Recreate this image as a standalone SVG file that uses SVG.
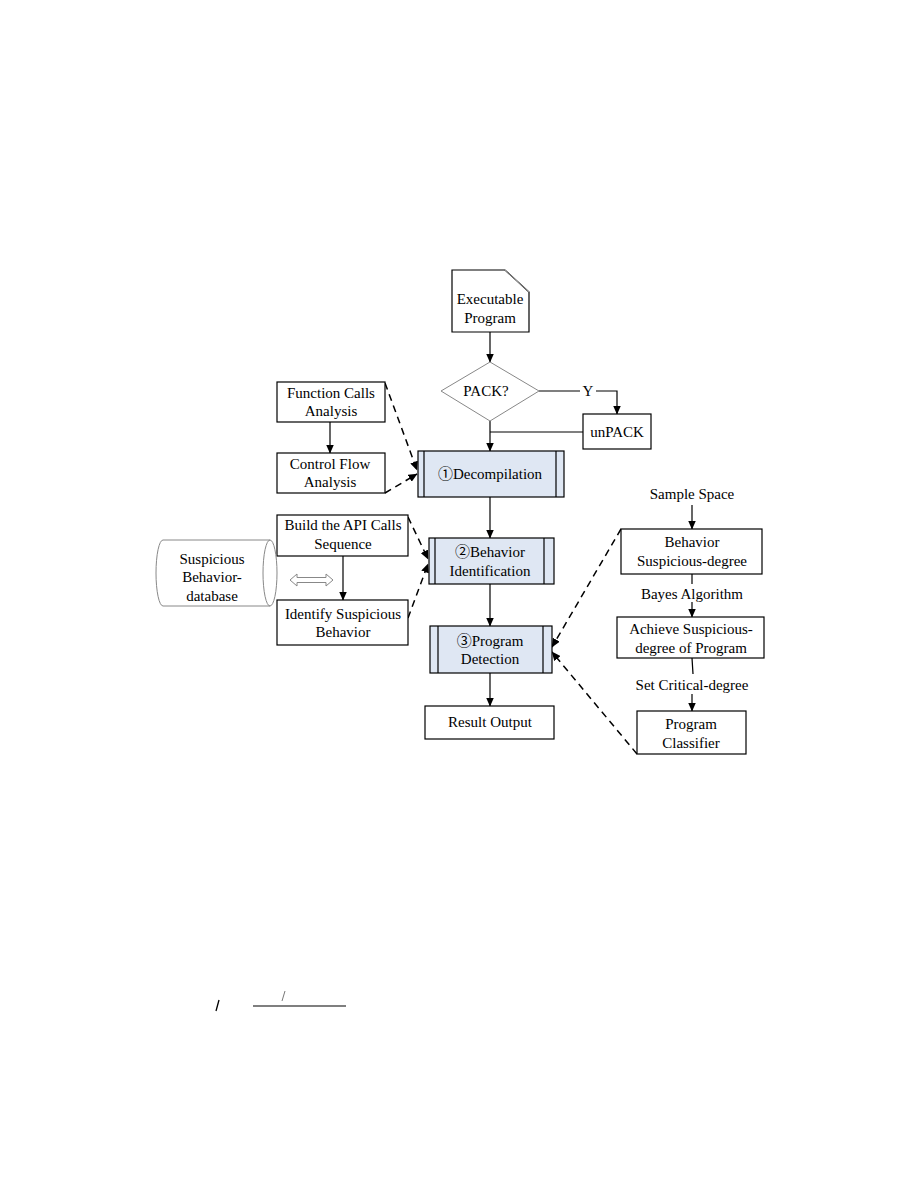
<svg xmlns="http://www.w3.org/2000/svg" width="918" height="1188" viewBox="0 0 918 1188">
<defs>
<marker id="ah" markerWidth="9" markerHeight="8" refX="8.5" refY="4" orient="auto" markerUnits="userSpaceOnUse">
<path d="M0,0 L9,4 L0,8 Z" fill="#000"/>
</marker>
<style>
text{font-family:"Liberation Serif","Noto Sans CJK SC",serif;font-size:15px;fill:#000;text-anchor:middle}
.box{fill:#fff;stroke:#000;stroke-width:1.2}
.proc{fill:#dfe7f3;stroke:#000;stroke-width:1.2}
.ln{fill:none;stroke:#000;stroke-width:1.2}
.dash{fill:none;stroke:#000;stroke-width:1.5;stroke-dasharray:7,5}
.gray{fill:#fff;stroke:#888;stroke-width:1}
</style>
</defs>
<rect width="918" height="1188" fill="#fff"/>

<g id="connectors">
<line class="ln" x1="490" y1="332" x2="490" y2="362" marker-end="url(#ah)"/>
<polyline class="ln" points="539,391 580,391"/>
<polyline class="ln" points="596,391 617,391 617,414" marker-end="url(#ah)"/>
<polyline class="ln" points="583,432 490,432"/>
<line class="ln" x1="490" y1="421" x2="490" y2="451" marker-end="url(#ah)"/>
<line class="ln" x1="330" y1="422" x2="330" y2="453" marker-end="url(#ah)"/>
<line class="dash" x1="385" y1="383" x2="417" y2="470" marker-end="url(#ah)"/>
<line class="dash" x1="385" y1="493" x2="417" y2="474" marker-end="url(#ah)"/>
<line class="ln" x1="490" y1="497" x2="490" y2="538" marker-end="url(#ah)"/>
<line class="ln" x1="343" y1="556" x2="343" y2="600" marker-end="url(#ah)"/>
<line class="dash" x1="408" y1="517" x2="428" y2="559" marker-end="url(#ah)"/>
<line class="dash" x1="408" y1="618" x2="428" y2="564" marker-end="url(#ah)"/>
<line class="ln" x1="490" y1="584" x2="490" y2="626" marker-end="url(#ah)"/>
<line class="ln" x1="490" y1="673" x2="490" y2="706" marker-end="url(#ah)"/>
<line class="ln" x1="692" y1="505" x2="692" y2="529" marker-end="url(#ah)"/>
<line class="ln" x1="692" y1="574" x2="692" y2="584"/>
<line class="ln" x1="692" y1="602" x2="692" y2="617" marker-end="url(#ah)"/>
<line class="ln" x1="692" y1="658" x2="693" y2="674"/>
<line class="ln" x1="692" y1="694" x2="692" y2="711" marker-end="url(#ah)"/>
<line class="dash" x1="621" y1="529" x2="552" y2="647" marker-end="url(#ah)"/>
<line class="dash" x1="637" y1="754" x2="552" y2="652" marker-end="url(#ah)"/>
</g>

<g id="executable">
<path class="box" d="M452,270 L505,270 L529,292 L529,332 L452,332 Z"/>
<path d="M505,270 L529,292" fill="none" stroke="#999" stroke-width="1"/>
<text x="490" y="304">Executable</text>
<text x="490" y="323">Program</text>
</g>

<g id="pack">
<polygon class="gray" points="490,362 539,391 490,421 441,391"/>
<text x="486" y="396">PACK?</text>
</g>
<g id="y-label"><text x="588" y="396">Y</text></g>

<g id="unpack">
<rect class="box" x="583" y="414" width="68" height="35"/>
<text x="617" y="437">unPACK</text>
</g>

<g id="decompilation">
<rect class="proc" x="418" y="451" width="146" height="46"/>
<line class="ln" x1="424" y1="451" x2="424" y2="497"/>
<line class="ln" x1="556" y1="451" x2="556" y2="497"/>
<text x="490" y="479">①Decompilation</text>
</g>

<g id="function-calls">
<rect class="box" x="277" y="382" width="108" height="40"/>
<text x="331" y="398">Function Calls</text>
<text x="331" y="416">Analysis</text>
</g>

<g id="control-flow">
<rect class="box" x="277" y="453" width="108" height="40"/>
<text x="330" y="469">Control Flow</text>
<text x="330" y="487">Analysis</text>
</g>

<g id="behavior-identification">
<rect class="proc" x="429" y="538" width="125" height="46"/>
<line class="ln" x1="435" y1="538" x2="435" y2="584"/>
<line class="ln" x1="544" y1="538" x2="544" y2="584"/>
<text x="490" y="557">②Behavior</text>
<text x="490" y="576">Identification</text>
</g>

<g id="build-api">
<rect class="box" x="277" y="515" width="131" height="41"/>
<text x="343" y="530">Build the API Calls</text>
<text x="343" y="549">Sequence</text>
</g>

<g id="identify">
<rect class="box" x="277" y="600" width="131" height="45"/>
<text x="343" y="619">Identify Suspicious</text>
<text x="343" y="637">Behavior</text>
</g>

<g id="database">
<path class="gray" d="M163,540 L270,540 A7,33 0 0 1 270,606 L163,606 A7,33 0 0 1 163,540 Z"/>
<path d="M270,540 A7,33 0 0 0 270,606" fill="none" stroke="#888" stroke-width="1"/>
<text x="212" y="564">Suspicious</text>
<text x="212" y="582">Behavior-</text>
<text x="212" y="601">database</text>
</g>

<g id="double-arrow">
<path d="M290,580 L297,574 L297,577.5 L326,577.5 L326,574 L333,580 L326,586 L326,582.5 L297,582.5 L297,586 Z" fill="#fff" stroke="#888" stroke-width="1"/>
</g>

<g id="program-detection">
<rect class="proc" x="430" y="626" width="122" height="47"/>
<line class="ln" x1="438" y1="626" x2="438" y2="673"/>
<line class="ln" x1="543" y1="626" x2="543" y2="673"/>
<text x="490" y="646">③Program</text>
<text x="490" y="664">Detection</text>
</g>

<g id="result-output">
<rect class="box" x="425" y="706" width="129" height="33"/>
<text x="490" y="727">Result Output</text>
</g>

<g id="sample-space"><text x="692" y="499">Sample Space</text></g>

<g id="behavior-degree">
<rect class="box" x="621" y="529" width="141" height="45"/>
<text x="692" y="547">Behavior</text>
<text x="692" y="566">Suspicious-degree</text>
</g>

<g id="bayes"><text x="692" y="599">Bayes Algorithm</text></g>

<g id="achieve">
<rect class="box" x="617" y="617" width="147" height="41"/>
<text x="691" y="634">Achieve Suspicious-</text>
<text x="691" y="653">degree of Program</text>
</g>

<g id="critical"><text x="692" y="690">Set Critical-degree</text></g>

<g id="classifier">
<rect class="box" x="637" y="711" width="109" height="43"/>
<text x="691" y="729">Program</text>
<text x="691" y="748">Classifier</text>
</g>

<g id="stray-marks">
<line x1="216" y1="1011" x2="219" y2="1000" stroke="#000" stroke-width="1.3"/>
<line x1="282" y1="1001" x2="285" y2="991" stroke="#555" stroke-width="0.8"/>
<line x1="253" y1="1006" x2="346" y2="1006" stroke="#000" stroke-width="1.2"/>
</g>
</svg>
